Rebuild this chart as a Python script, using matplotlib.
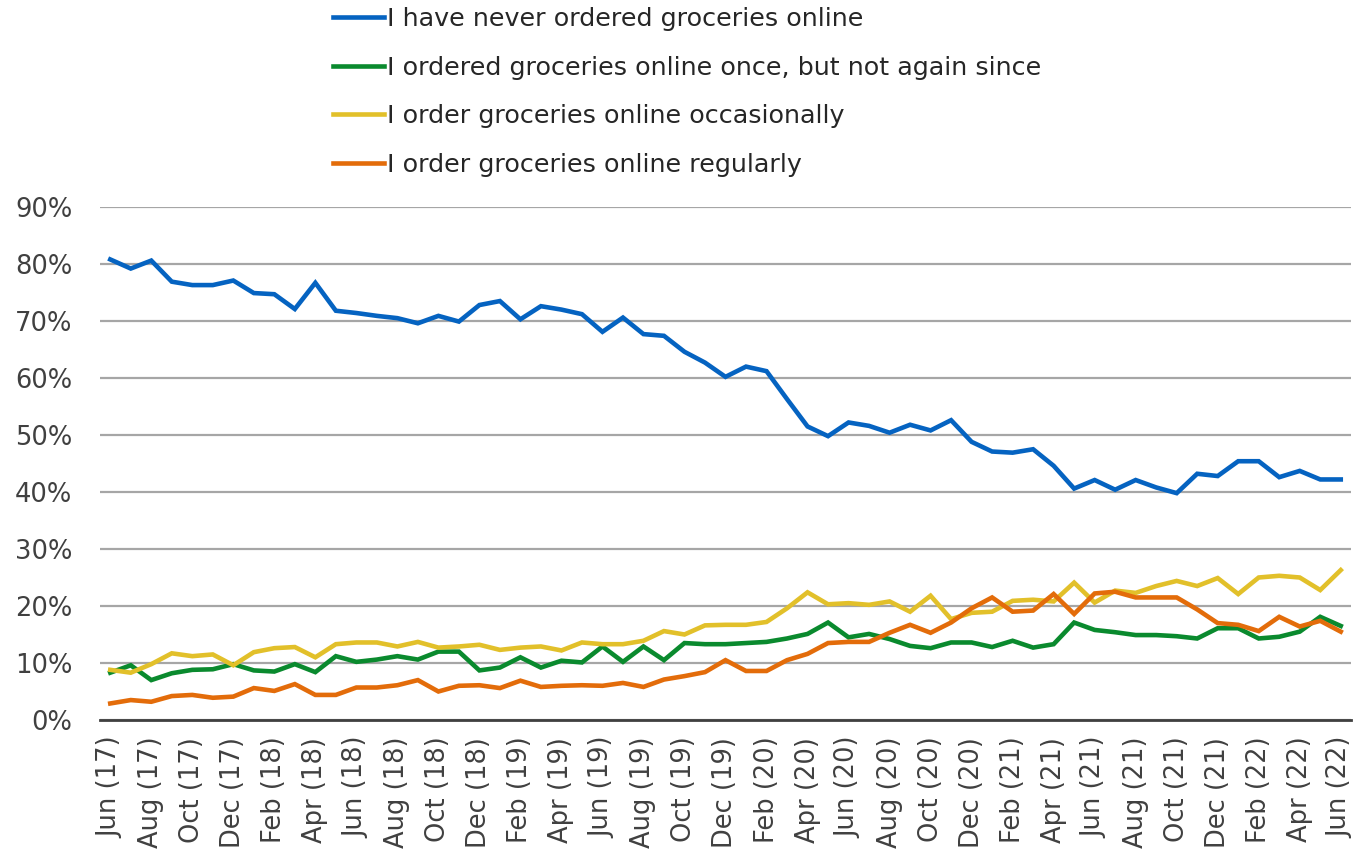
import matplotlib
matplotlib.use("Agg")
import matplotlib.pyplot as plt
from matplotlib.ticker import FuncFormatter, MultipleLocator

months = ["Jun", "Jul", "Aug", "Sep", "Oct", "Nov", "Dec", "Jan", "Feb", "Mar", "Apr", "May"]
start_year = 17
n_points = 61
categories = []
for i in range(n_points):
    m = months[i % 12]
    yr = start_year + (i + 5) // 12
    categories.append(f"{m} ({yr})")

never = [80.8, 79.2, 80.6, 76.9, 76.3, 76.3, 77.1, 74.9, 74.7, 72.1,
         76.7, 71.8, 71.4, 70.9, 70.5, 69.6, 70.9, 69.9, 72.8, 73.5,
         70.3, 72.6, 72.0, 71.2, 68.1, 70.6, 67.7, 67.4, 64.6, 62.7,
         60.2, 62.0, 61.2, 56.3, 51.5, 49.8, 52.2, 51.6, 50.4, 51.8,
         50.8, 52.6, 48.8, 47.1, 46.9, 47.5, 44.6, 40.6, 42.1, 40.4,
         42.1, 40.8, 39.8, 43.2, 42.8, 45.4, 45.4, 42.6, 43.7, 42.2,
         42.2]
once = [8.3, 9.6, 7.0, 8.2, 8.8, 8.9, 9.8, 8.7, 8.5, 9.8,
        8.4, 11.2, 10.2, 10.6, 11.2, 10.6, 12.0, 12.0, 8.7, 9.2,
        11.0, 9.2, 10.4, 10.1, 12.9, 10.2, 12.9, 10.5, 13.5, 13.3,
        13.3, 13.5, 13.7, 14.3, 15.1, 17.1, 14.5, 15.1, 14.2, 13.0,
        12.6, 13.6, 13.6, 12.8, 13.9, 12.7, 13.3, 17.1, 15.8, 15.4,
        14.9, 14.9, 14.7, 14.3, 16.1, 16.1, 14.3, 14.6, 15.5, 18.1,
        16.5]
occasionally = [8.8, 8.3, 9.8, 11.7, 11.2, 11.5, 9.6, 11.9, 12.6, 12.8,
                11.0, 13.3, 13.6, 13.6, 12.9, 13.7, 12.7, 12.9, 13.2, 12.3,
                12.7, 12.9, 12.2, 13.6, 13.3, 13.3, 13.9, 15.6, 15.0, 16.6,
                16.7, 16.7, 17.2, 19.6, 22.4, 20.3, 20.5, 20.2, 20.8, 19.0,
                21.8, 17.7, 18.8, 19.0, 20.9, 21.1, 20.8, 24.1, 20.6, 22.7,
                22.3, 23.5, 24.4, 23.5, 24.9, 22.1, 25.0, 25.3, 25.0, 22.8,
                26.3]
regularly = [2.9, 3.5, 3.2, 4.2, 4.4, 3.9, 4.1, 5.6, 5.1, 6.3,
             4.4, 4.4, 5.7, 5.7, 6.1, 7.0, 5.0, 6.0, 6.1, 5.6,
             6.9, 5.8, 6.0, 6.1, 6.0, 6.5, 5.8, 7.1, 7.7, 8.4,
             10.5, 8.6, 8.6, 10.5, 11.6, 13.5, 13.7, 13.7, 15.3, 16.7,
             15.3, 17.1, 19.6, 21.5, 19.0, 19.2, 22.1, 18.6, 22.2, 22.5,
             21.5, 21.5, 21.5, 19.4, 17.0, 16.7, 15.6, 18.1, 16.4, 17.4,
             15.5]

series_labels = ["I have never ordered groceries online",
                 "I ordered groceries online once, but not again since",
                 "I order groceries online occasionally",
                 "I order groceries online regularly"]
series_values = [never, once, occasionally, regularly]
colors = ["#0563C1", "#0A8A2E", "#E2C02A", "#E36C0A"]

plt.rcParams['font.family'] = ['DejaVu Sans']

fig = plt.figure(figsize=(13.58, 8.61), dpi=100)
ax = fig.add_axes([100 / 1358, 1 - 720 / 861, 1251 / 1358, (720 - 207) / 861])

x = list(range(n_points))
lines = []
for vals, lab, c in zip(series_values, series_labels, colors):
    ln, = ax.plot(x, vals, color=c, lw=3.3, label=lab, solid_joinstyle='miter')
    lines.append(ln)

ax.set_xlim(-0.5, n_points - 0.5)
ax.set_ylim(0, 90)
ax.yaxis.set_major_locator(MultipleLocator(10))
ax.yaxis.set_major_formatter(FuncFormatter(lambda v, p: f"{int(round(v))}%"))
ax.grid(axis='y', color='#A6A6A6', lw=1.6)
ax.set_axisbelow(True)
for s in ['top', 'right', 'left']:
    ax.spines[s].set_visible(False)
ax.spines['bottom'].set_color('#404040')
ax.spines['bottom'].set_linewidth(2.0)
ax.spines['bottom'].set_zorder(5)

tick_pos = x[::2]
ax.set_xticks(tick_pos)
ax.set_xticklabels([categories[i] for i in tick_pos], rotation=90, ha='center', va='top')
ax.tick_params(axis='x', length=0, pad=12, labelsize=18.5, labelcolor='#404040')
ax.tick_params(axis='y', length=0, pad=20, labelsize=18.5, labelcolor='#404040')

leg = fig.legend(handles=lines, loc='upper left', bbox_to_anchor=(333 / 1358, 1 - 7 / 861),
                 frameon=False, fontsize=18.3, handlelength=2.0, handletextpad=0.12,
                 labelspacing=0.97, borderaxespad=0, borderpad=0)
for t in leg.get_texts():
    t.set_color('#262626')
for h in leg.legend_handles:
    h.set_linewidth(3.3)

fig.savefig("out.png", dpi=100)
